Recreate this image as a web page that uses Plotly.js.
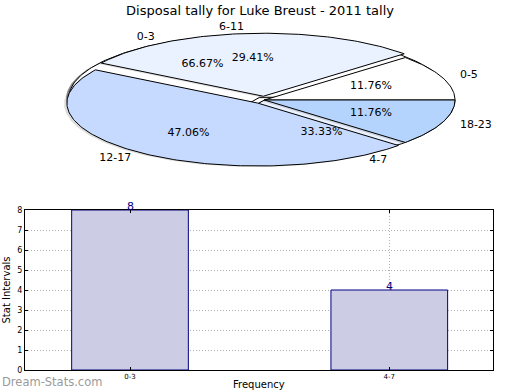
<!DOCTYPE html>
<html>
<head>
<meta charset="utf-8">
<script src="https://cdn.plot.ly/plotly-3.0.1.min.js"></script>
<style>html,body{margin:0;padding:0;background:#fff;}#chart{width:520px;height:390px;}</style>
</head>
<body>
<div id="chart"></div>
<script>
// ---- data ----
var chartTitle = "Disposal tally for Luke Breust - 2011 tally";
// pie A (frequency groups)
var pieALabels = ["0-3", "4-7"];
var pieAValues = [8, 4];
var pieAExplode = [0.05, 0];
var pieAColors = ["#ffffff", "#eaf1ff"];
// pie B (stat intervals)
var pieBLabels = ["0-5", "6-11", "12-17", "18-23"];
var pieBValues = [2, 5, 8, 2];
var pieBExplode = [0, 0.06, 0.06, 0];
var pieBColors = ["#ffffff", "#eaf1ff", "#c6d9fe", "#b4d4fe"];
// bar chart
var barCategories = ["0-3", "4-7"];
var barValues = [8, 4];
var yTicks = [0, 1, 2, 3, 4, 5, 6, 7, 8];
var xTitle = "Frequency";
var yTitle = "Stat Intervals";

// ---- helpers ----
var FONT = "DejaVu Sans, sans-serif";
var traces = [];
var textX = [], textY = [], textS = [], textPos = [];
var pctX = [], pctY = [], pctS = [];

function addPie(values, labels, explode, colors, shadowAlpha) {
  var total = values.reduce(function (a, b) { return a + b; }, 0);
  var start = 0;
  var wedges = [];
  values.forEach(function (v, i) {
    var frac = v / total;
    var t1 = start * 360, t2 = (start + frac) * 360;
    var mid = (t1 + t2) / 2 * Math.PI / 180;
    var dx = explode[i] * Math.cos(mid), dy = explode[i] * Math.sin(mid);
    var xs = [dx], ys = [dy];
    var n = Math.max(4, Math.ceil(t2 - t1));
    for (var k = 0; k <= n; k++) {
      var a = (t1 + (t2 - t1) * k / n) * Math.PI / 180;
      xs.push(dx + Math.cos(a));
      ys.push(dy + Math.sin(a));
    }
    xs.push(dx); ys.push(dy);
    wedges.push({xs: xs, ys: ys, color: colors[i]});
    var lx = dx + 1.1 * Math.cos(mid), ly = dy + 1.1 * Math.sin(mid);
    textX.push(lx); textY.push(ly); textS.push(labels[i]);
    textPos.push(lx > 0 ? "middle right" : "middle left");
    pctX.push(dx + 0.6 * Math.cos(mid)); pctY.push(dy + 0.6 * Math.sin(mid));
    pctS.push((frac * 100).toFixed(2) + "%");
    start += frac;
  });
  wedges.forEach(function (w) {
    traces.push({
      type: "scatter", mode: "lines", xaxis: "x2", yaxis: "y2",
      x: w.xs.map(function (x) { return x - 0.015; }),
      y: w.ys.map(function (y) { return y - 0.015; }),
      fill: "toself", fillcolor: "rgba(30,30,30," + shadowAlpha + ")",
      line: {width: 0, color: "rgba(0,0,0,0)"}, hoverinfo: "skip", showlegend: false
    });
  });
  wedges.forEach(function (w) {
    traces.push({
      type: "scatter", mode: "lines", xaxis: "x2", yaxis: "y2",
      x: w.xs, y: w.ys, fill: "toself", fillcolor: w.color,
      line: {width: 1, color: "#000000"}, hoverinfo: "skip", showlegend: false
    });
  });
}

addPie(pieAValues, pieALabels, pieAExplode, pieAColors, 0.5);
addPie(pieBValues, pieBLabels, pieBExplode, pieBColors, 0.15);

traces.push({
  type: "scatter", mode: "text", xaxis: "x2", yaxis: "y2",
  x: textX, y: textY, text: textS, textposition: textPos,
  textfont: {family: FONT, size: 11, color: "#000"}, hoverinfo: "skip", showlegend: false, cliponaxis: false
});
traces.push({
  type: "scatter", mode: "text", xaxis: "x2", yaxis: "y2",
  x: pctX, y: pctY, text: pctS, textposition: "middle center",
  textfont: {family: FONT, size: 11, color: "#000"}, hoverinfo: "skip", showlegend: false, cliponaxis: false
});

// bars
traces.push({
  type: "bar", x: barCategories, y: barValues, width: 0.45,
  marker: {color: "#ccccE5", line: {color: "#000080", width: 1}},
  hoverinfo: "skip", showlegend: false
});

var annotations = barCategories.map(function (c, i) {
  return {x: c, y: barValues[i], xref: "x", yref: "y", text: String(barValues[i]),
    showarrow: false, yanchor: "bottom", yshift: -5,
    font: {family: FONT, size: 11, color: "#000080"}};
});
annotations.push({x: 0, y: 8 / 390, xref: "paper", yref: "paper", xanchor: "left", yanchor: "middle",
  text: "Dream-Stats.com", showarrow: false, font: {family: FONT, size: 11.5, color: "#9a9a9a"}});
// x-axis title, sitting as low as possible like the reference
annotations.push({x: (25 + 493) / 2 / 520, y: 0, xref: "paper", yref: "paper", xanchor: "center", yanchor: "bottom",
  yshift: -2, text: xTitle, showarrow: false, font: {family: FONT, size: 10, color: "#000"}});

// pie axes: unit circle -> ellipse centred at (264.4, 100) px with semi-axes 190.6 x 63 px
var cx = 264.4, cy = 100, ra = 190.6, rb = 63;

var layout = {
  width: 520, height: 390,
  margin: {l: 0, r: 0, t: 0, b: 0, autoexpand: false},
  paper_bgcolor: "#fff", plot_bgcolor: "rgba(0,0,0,0)",
  showlegend: false,
  title: {text: chartTitle, font: {family: FONT, size: 13, color: "#000"}, x: 0.5, xanchor: "center", y: 1 - 10 / 390, yanchor: "middle"},
  font: {family: FONT, color: "#000"},
  xaxis2: {domain: [0, 1], range: [(0 - cx) / ra, (520 - cx) / ra], visible: false, fixedrange: true, anchor: "y2"},
  yaxis2: {domain: [0, 1], range: [(cy - 390) / rb, (cy - 0) / rb], visible: false, fixedrange: true, anchor: "x2"},
  xaxis: {
    domain: [25 / 520, 493 / 520], anchor: "y", type: "category", range: [-0.405, 1.4],
    showline: true, linecolor: "#000", linewidth: 1, mirror: "allticks",
    ticks: "inside", ticklen: 3, tickcolor: "#000",
    showgrid: true, gridcolor: "#b0b0b0", griddash: "1px,2px", gridwidth: 1,
    tickfont: {family: FONT, size: 7, color: "#000"},
    zeroline: false
  },
  yaxis: {
    domain: [1 - 370 / 390, 1 - 210 / 390], anchor: "x", range: [0, 8],
    tickvals: yTicks, ticktext: yTicks.map(String),
    showline: true, linecolor: "#000", linewidth: 1, mirror: "allticks",
    ticks: "inside", ticklen: 3, tickcolor: "#000",
    showgrid: true, gridcolor: "#b0b0b0", griddash: "1px,2px", gridwidth: 1,
    tickfont: {family: FONT, size: 8, color: "#000"},
    title: {text: yTitle, font: {family: FONT, size: 10, color: "#000"}, standoff: 4},
    zeroline: false
  },
  annotations: annotations
};

Plotly.newPlot("chart", traces, layout, {staticPlot: true, displayModeBar: false});
</script>
</body>
</html>
